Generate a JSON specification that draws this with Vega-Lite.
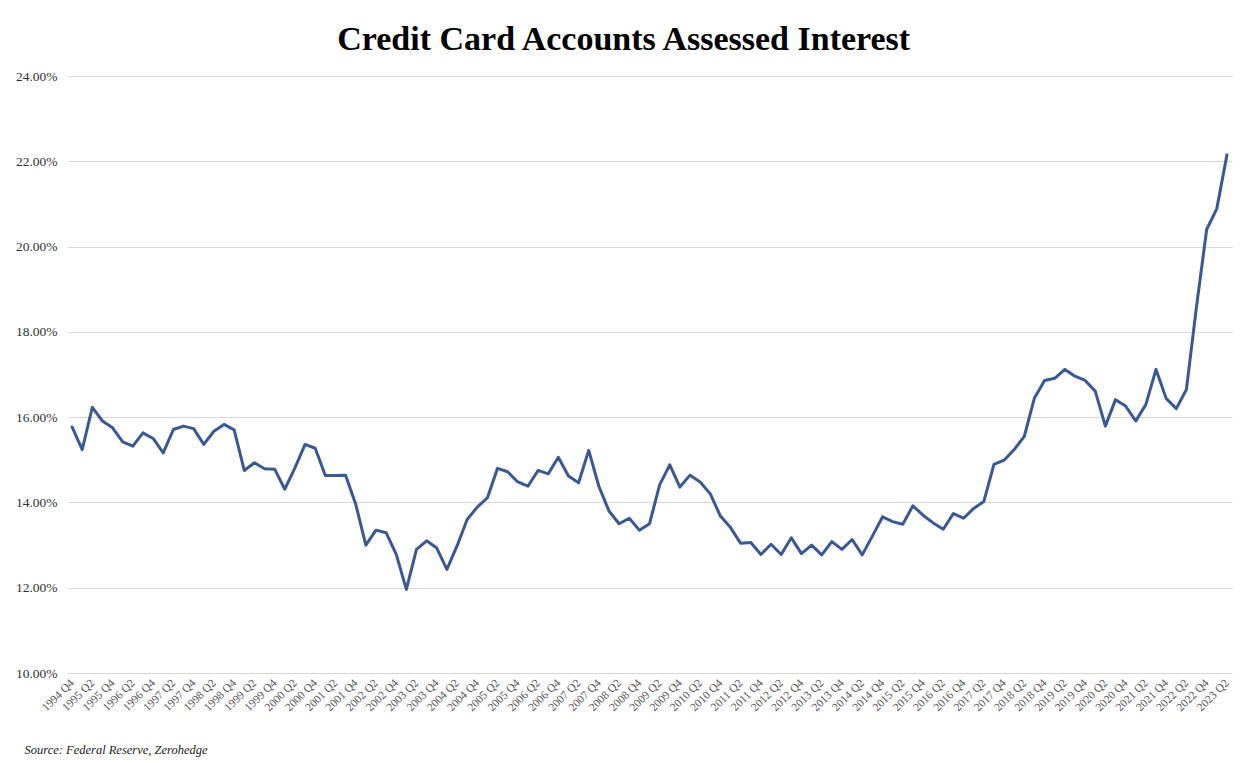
{
  "$schema": "https://vega.github.io/schema/vega-lite/v6.json",
  "width": 1165,
  "height": 597,
  "padding": {"left": 15, "top": 23, "right": 10, "bottom": 5},
  "background": "white",
  "title": {
    "text": "Credit Card Accounts Assessed Interest",
    "font": "Liberation Serif",
    "fontSize": 34,
    "fontWeight": "bold",
    "color": "#000000",
    "anchor": "middle",
    "frame": "bounds",
    "offset": 12
  },
  "data": {
    "values": [
      {"q": "1994 Q4", "v": 15.77},
      {"q": "1995 Q1", "v": 15.24},
      {"q": "1995 Q2", "v": 16.23},
      {"q": "1995 Q3", "v": 15.91},
      {"q": "1995 Q4", "v": 15.75},
      {"q": "1996 Q1", "v": 15.42},
      {"q": "1996 Q2", "v": 15.32},
      {"q": "1996 Q3", "v": 15.63},
      {"q": "1996 Q4", "v": 15.50},
      {"q": "1997 Q1", "v": 15.16},
      {"q": "1997 Q2", "v": 15.71},
      {"q": "1997 Q3", "v": 15.79},
      {"q": "1997 Q4", "v": 15.73},
      {"q": "1998 Q1", "v": 15.36},
      {"q": "1998 Q2", "v": 15.67},
      {"q": "1998 Q3", "v": 15.83},
      {"q": "1998 Q4", "v": 15.70},
      {"q": "1999 Q1", "v": 14.75},
      {"q": "1999 Q2", "v": 14.93},
      {"q": "1999 Q3", "v": 14.79},
      {"q": "1999 Q4", "v": 14.78},
      {"q": "2000 Q1", "v": 14.31},
      {"q": "2000 Q2", "v": 14.81},
      {"q": "2000 Q3", "v": 15.36},
      {"q": "2000 Q4", "v": 15.27},
      {"q": "2001 Q1", "v": 14.63},
      {"q": "2001 Q2", "v": 14.63},
      {"q": "2001 Q3", "v": 14.64},
      {"q": "2001 Q4", "v": 13.96},
      {"q": "2002 Q1", "v": 13.00},
      {"q": "2002 Q2", "v": 13.35},
      {"q": "2002 Q3", "v": 13.29},
      {"q": "2002 Q4", "v": 12.78},
      {"q": "2003 Q1", "v": 11.96},
      {"q": "2003 Q2", "v": 12.90},
      {"q": "2003 Q3", "v": 13.10},
      {"q": "2003 Q4", "v": 12.93},
      {"q": "2004 Q1", "v": 12.43},
      {"q": "2004 Q2", "v": 12.98},
      {"q": "2004 Q3", "v": 13.60},
      {"q": "2004 Q4", "v": 13.89},
      {"q": "2005 Q1", "v": 14.11},
      {"q": "2005 Q2", "v": 14.80},
      {"q": "2005 Q3", "v": 14.72},
      {"q": "2005 Q4", "v": 14.48},
      {"q": "2006 Q1", "v": 14.38},
      {"q": "2006 Q2", "v": 14.75},
      {"q": "2006 Q3", "v": 14.67},
      {"q": "2006 Q4", "v": 15.06},
      {"q": "2007 Q1", "v": 14.62},
      {"q": "2007 Q2", "v": 14.46},
      {"q": "2007 Q3", "v": 15.22},
      {"q": "2007 Q4", "v": 14.38},
      {"q": "2008 Q1", "v": 13.80},
      {"q": "2008 Q2", "v": 13.50},
      {"q": "2008 Q3", "v": 13.63},
      {"q": "2008 Q4", "v": 13.35},
      {"q": "2009 Q1", "v": 13.50},
      {"q": "2009 Q2", "v": 14.41},
      {"q": "2009 Q3", "v": 14.88},
      {"q": "2009 Q4", "v": 14.36},
      {"q": "2010 Q1", "v": 14.64},
      {"q": "2010 Q2", "v": 14.48},
      {"q": "2010 Q3", "v": 14.20},
      {"q": "2010 Q4", "v": 13.68},
      {"q": "2011 Q1", "v": 13.41},
      {"q": "2011 Q2", "v": 13.04},
      {"q": "2011 Q3", "v": 13.06},
      {"q": "2011 Q4", "v": 12.78},
      {"q": "2012 Q1", "v": 13.02},
      {"q": "2012 Q2", "v": 12.78},
      {"q": "2012 Q3", "v": 13.17},
      {"q": "2012 Q4", "v": 12.80},
      {"q": "2013 Q1", "v": 13.00},
      {"q": "2013 Q2", "v": 12.77},
      {"q": "2013 Q3", "v": 13.08},
      {"q": "2013 Q4", "v": 12.90},
      {"q": "2014 Q1", "v": 13.13},
      {"q": "2014 Q2", "v": 12.77},
      {"q": "2014 Q3", "v": 13.21},
      {"q": "2014 Q4", "v": 13.66},
      {"q": "2015 Q1", "v": 13.55},
      {"q": "2015 Q2", "v": 13.49},
      {"q": "2015 Q3", "v": 13.92},
      {"q": "2015 Q4", "v": 13.70},
      {"q": "2016 Q1", "v": 13.52},
      {"q": "2016 Q2", "v": 13.37},
      {"q": "2016 Q3", "v": 13.74},
      {"q": "2016 Q4", "v": 13.63},
      {"q": "2017 Q1", "v": 13.86},
      {"q": "2017 Q2", "v": 14.02},
      {"q": "2017 Q3", "v": 14.89},
      {"q": "2017 Q4", "v": 14.99},
      {"q": "2018 Q1", "v": 15.24},
      {"q": "2018 Q2", "v": 15.55},
      {"q": "2018 Q3", "v": 16.45},
      {"q": "2018 Q4", "v": 16.86},
      {"q": "2019 Q1", "v": 16.91},
      {"q": "2019 Q2", "v": 17.12},
      {"q": "2019 Q3", "v": 16.96},
      {"q": "2019 Q4", "v": 16.86},
      {"q": "2020 Q1", "v": 16.61},
      {"q": "2020 Q2", "v": 15.79},
      {"q": "2020 Q3", "v": 16.41},
      {"q": "2020 Q4", "v": 16.26},
      {"q": "2021 Q1", "v": 15.91},
      {"q": "2021 Q2", "v": 16.30},
      {"q": "2021 Q3", "v": 17.12},
      {"q": "2021 Q4", "v": 16.44},
      {"q": "2022 Q1", "v": 16.20},
      {"q": "2022 Q2", "v": 16.65},
      {"q": "2022 Q3", "v": 18.60},
      {"q": "2022 Q4", "v": 20.40},
      {"q": "2023 Q1", "v": 20.89},
      {"q": "2023 Q2", "v": 22.15}
    ]
  },
  "mark": {"type": "line", "color": "#3a5894", "strokeWidth": 3, "strokeJoin": "round", "strokeCap": "round"},
  "encoding": {
    "x": {
      "field": "q",
      "type": "ordinal",
      "sort": null,
      "scale": {"type": "point", "padding": 0.5},
      "axis": {
        "title": "Source: Federal Reserve, Zerohedge",
        "titleFont": "Liberation Serif",
        "titleFontStyle": "italic",
        "titleFontWeight": "normal",
        "titleFontSize": 12.5,
        "titleColor": "#222222",
        "titleAnchor": "start",
        "titleAlign": "left",
        "titleBaseline": "alphabetic",
        "titleX": -43,
        "titleY": 80,
        "labelExpr": "test(/Q[13]/, datum.value) ? '' : datum.value",
        "labelAngle": -45,
        "labelAlign": "right",
        "labelBaseline": "middle",
        "labelFont": "Liberation Serif",
        "labelFontSize": 11.5,
        "labelColor": "#555555",
        "labelPadding": 8,
        "labelOverlap": false,
        "ticks": false,
        "domain": false,
        "grid": false
      }
    },
    "y": {
      "field": "v",
      "type": "quantitative",
      "scale": {"domain": [10, 24], "nice": false, "zero": false},
      "axis": {
        "title": null,
        "values": [10, 12, 14, 16, 18, 20, 22, 24],
        "labelExpr": "format(datum.value, '.2f') + '%'",
        "labelFont": "Liberation Serif",
        "labelFontSize": 13.5,
        "labelColor": "#333333",
        "labelPadding": 10,
        "ticks": false,
        "domain": false,
        "grid": true,
        "gridColor": "#d9d9d9",
        "gridWidth": 1
      }
    }
  },
  "config": {
    "view": {"stroke": null}
  }
}
